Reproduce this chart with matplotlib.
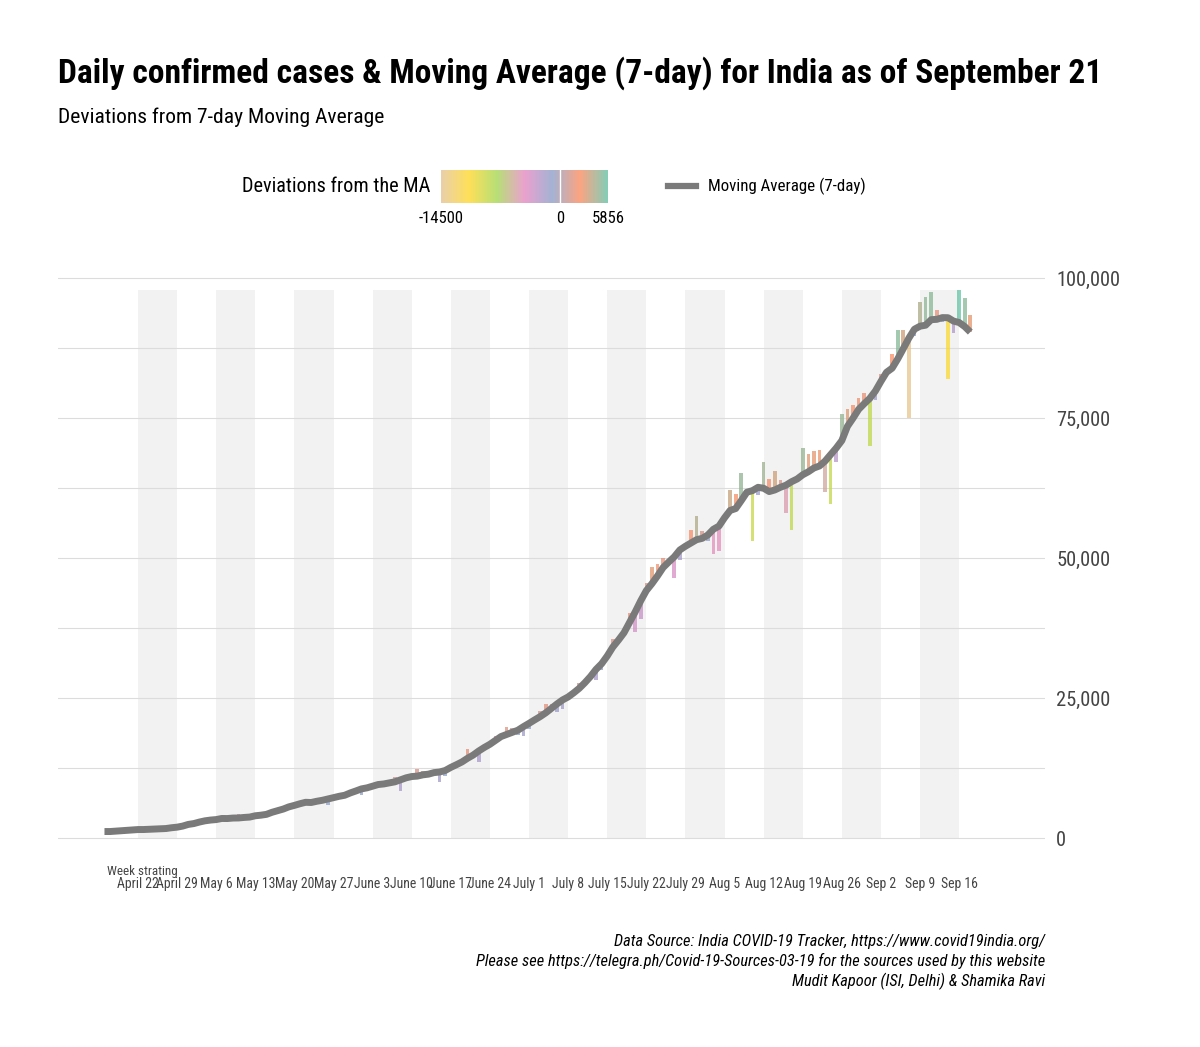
import numpy as np
import pandas as pd
import matplotlib
matplotlib.use("Agg")
import matplotlib.pyplot as plt
import matplotlib.dates as mdates
from matplotlib.colors import LinearSegmentedColormap, Normalize
from matplotlib import font_manager

# Daily confirmed cases, India, April 13 - September 21 (2020)
daily_cases = [
    1243, 1034, 880, 1061, 922, 1371, 1580, 1239, 1537, 1292, 1667, 1408, 1835, 1607, 1568, 1902, 1705, 1801,
    2396, 2564, 2952, 3656, 2971, 3602, 3344, 3339, 3175, 4311, 3592, 3562, 3726, 3991, 3808, 4794, 5050,
    4628, 6154, 5720, 6023, 6536, 6667, 7111, 6414, 5907, 7246, 7254, 8138, 8364, 8789,
    7723, 8812, 9689, 9847, 9472, 10438, 10864, 8442, 10218, 10956, 12375, 11929, 12036, 11405, 10032,
    11086, 12881, 13108, 13832, 15915, 14740, 13540, 15656, 16868, 18205, 18255, 19906, 19610, 18339, 18256,
    19429, 20903, 22721, 24015, 23942, 22500, 22953, 24879, 26506, 27761, 27755, 29106, 28178, 29917, 32607,
    35468, 34820, 37411, 40243, 36806, 39170, 45601, 48443, 48892, 50072, 48931, 46484, 49632, 52479, 54968,
    57486,
    54735, 52972, 50629, 51282, 56626, 62170, 61455, 65156, 62117, 53016, 61252, 67066, 64142, 65609, 63986,
    57981, 55018, 64572, 69672, 68507, 69039, 69239, 61749, 59696, 67151, 75760, 76665, 77260, 78512, 79457,
    69921,
    78169, 82860, 83341, 86432, 90632, 90802, 75022, 89706, 95735, 96551, 97570, 94372, 92071, 81911, 90123,
    97894, 96424, 93337, 92605, 86961, 75083,
]
first_day = "2020-04-13"

week_labels = ["April 22", "April 29", "May 6", "May 13", "May 20", "May 27", "June 3", "June 10",
               "June 17", "June 24", "July 1", "July 8", "July 15", "July 22", "July 29", "Aug 5",
               "Aug 12", "Aug 19", "Aug 26", "Sep 2", "Sep 9", "Sep 16"]
first_week = "2020-04-22"

y_ticks = [0, 25000, 50000, 75000, 100000]
cbar_ticks = [-14500, 0, 5856]
set2_rev = ["#E5C494", "#FFD92F", "#A6D854", "#E78AC3", "#8DA0CB", "#FC8D62", "#66C2A5"]

caption = ("Data Source: India COVID-19 Tracker, https://www.covid19india.org/\n"
           "Please see https://telegra.ph/Covid-19-Sources-03-19 for the sources used by this website\n"
           "Mudit Kapoor (ISI, Delhi) & Shamika Ravi")

# fonts: prefer a narrow sans if one is installed
names = {f.name for f in font_manager.fontManager.ttflist}
cands = ["Liberation Sans Narrow", "Arial Narrow", "Roboto Condensed", "Noto Sans Condensed",
         "Open Sans Condensed", "DejaVu Sans Condensed"]
fam = next((c for c in cands if c in names), None)
if fam is None:
    cond = [f for f in font_manager.fontManager.ttflist
            if f.stretch in ("condensed", "semi-condensed", "extra-condensed")
            and f.name in ("Roboto", "Noto Sans", "Open Sans", "DejaVu Sans", "Liberation Sans", "Lato", "Inter")]
    if cond:
        fam = cond[0].name
        plt.rcParams["font.stretch"] = "condensed"
    else:
        fam = "Liberation Sans"
plt.rcParams["font.family"] = [fam, "DejaVu Sans"]

# centered 7-day moving average
df = pd.DataFrame({"date": pd.date_range(first_day, periods=len(daily_cases), freq="D"),
                   "cases": daily_cases})
df["ma"] = df["cases"].rolling(7, center=True).mean()
df = df.dropna().reset_index(drop=True)
df["dev"] = df["cases"] - df["ma"]

cmap = LinearSegmentedColormap.from_list("set2r", set2_rev)
norm = Normalize(vmin=cbar_ticks[0], vmax=cbar_ticks[-1])

W, H = 1200, 1047
fig = plt.figure(figsize=(12, 10.47), dpi=100)
ax = fig.add_axes([58 / W, 1 - 845 / H, (1045 - 58) / W, (845 - 270) / H])

week_dates = pd.date_range(first_week, periods=len(week_labels), freq="7D")
xnum = mdates.date2num(df["date"])
wk = mdates.date2num(week_dates)

# alternating shaded weeks
top = df["cases"].max()
for i in range(0, len(wk), 2):
    ax.fill_between([wk[i], wk[i] + 7], 0, top, color="#f2f2f2", lw=0, zorder=0)

for y in np.arange(0, 100001, 12500):
    ax.axhline(y, color="#dcdcdc", lw=0.8, zorder=0.5)

# deviation bars from the moving average
ax.bar(xnum, df["dev"], bottom=df["ma"], width=0.65, color=cmap(norm(df["dev"])),
       alpha=0.75, lw=0, zorder=2)

ax.plot(xnum, df["ma"], color="#7a7a7a", lw=5, solid_capstyle="butt", zorder=3)

ax.set_xlim(wk[0] - 14.32, wk[0] + 162.37)
ax.set_ylim(-1250, 101430)
for s in ax.spines.values():
    s.set_visible(False)
ax.set_xticks(wk)
ax.set_xticklabels(week_labels, fontsize=11, color="#444444")
ax.tick_params(axis="x", length=0, pad=23)
ax.yaxis.tick_right()
ax.set_yticks(y_ticks)
ax.set_yticklabels([f"{v:,}" for v in y_ticks], fontsize=15, color="#444444")
ax.tick_params(axis="y", length=0, pad=8)

week_txt = fig.text(107 / W, 1 - 872 / H, "Week strating", fontsize=10.5, color="#444444",
                    va="center", ha="left")

title = fig.text(58 / W, 1 - 73 / H,
                 "Daily confirmed cases & Moving Average (7-day) for India as of September 21",
                 fontsize=25, fontweight="bold", va="center", ha="left")
sub = fig.text(58 / W, 1 - 117 / H, "Deviations from 7-day Moving Average", fontsize=16,
               va="center", ha="left")

# legend: colourbar
leg_title = fig.text(430 / W, 1 - 187 / H, "Deviations from the MA", fontsize=15, va="center", ha="right")
cax = fig.add_axes([441 / W, 1 - 203 / H, 167 / W, 33 / H])
grad = np.linspace(cbar_ticks[0], cbar_ticks[-1], 400).reshape(1, -1)
cax.imshow(grad, cmap=cmap, norm=norm, aspect="auto", alpha=0.8,
           extent=[cbar_ticks[0], cbar_ticks[-1], 0, 1])
cax.axvline(0, color="white", lw=1)
cax.set_xlim(cbar_ticks[0], cbar_ticks[-1])
cax.set_yticks([])
cax.set_xticks(cbar_ticks)
cax.set_xticklabels([str(t) for t in cbar_ticks], fontsize=12)
cax.tick_params(axis="x", length=0, pad=6)
for s in cax.spines.values():
    s.set_visible(False)

# legend: moving average line
fig.add_artist(plt.Line2D([668 / W, 696 / W], [1 - 186 / H, 1 - 186 / H], color="#7a7a7a", lw=4.5))
ma_txt = fig.text(708 / W, 1 - 186 / H, "Moving Average (7-day)", fontsize=12, va="center", ha="left")

cap = fig.text(1045 / W, 1 - 962 / H, caption, fontsize=12, style="italic", ha="right", va="center",
               linespacing=1.3)

# size texts to the widths they have in the reference
fig.canvas.draw()
r = fig.canvas.get_renderer()


def fit(t, target):
    w = t.get_window_extent(r).width
    t.set_fontsize(t.get_fontsize() * target / w)


for t, px in [(title, 1045), (sub, 327), (leg_title, 188), (ma_txt, 157), (cap, 568), (week_txt, 71)]:
    fit(t, px)

xt = ax.get_xticklabels()
k = 42 / xt[0].get_window_extent(r).width
for t in xt:
    t.set_fontsize(t.get_fontsize() * k)
yt = ax.get_yticklabels()
k = 64 / yt[-1].get_window_extent(r).width
for t in yt:
    t.set_fontsize(t.get_fontsize() * k)
ct = cax.get_xticklabels()
k = 45 / ct[0].get_window_extent(r).width
for t in ct:
    t.set_fontsize(t.get_fontsize() * k)

fig.savefig("out.png", dpi=100, facecolor="white")
